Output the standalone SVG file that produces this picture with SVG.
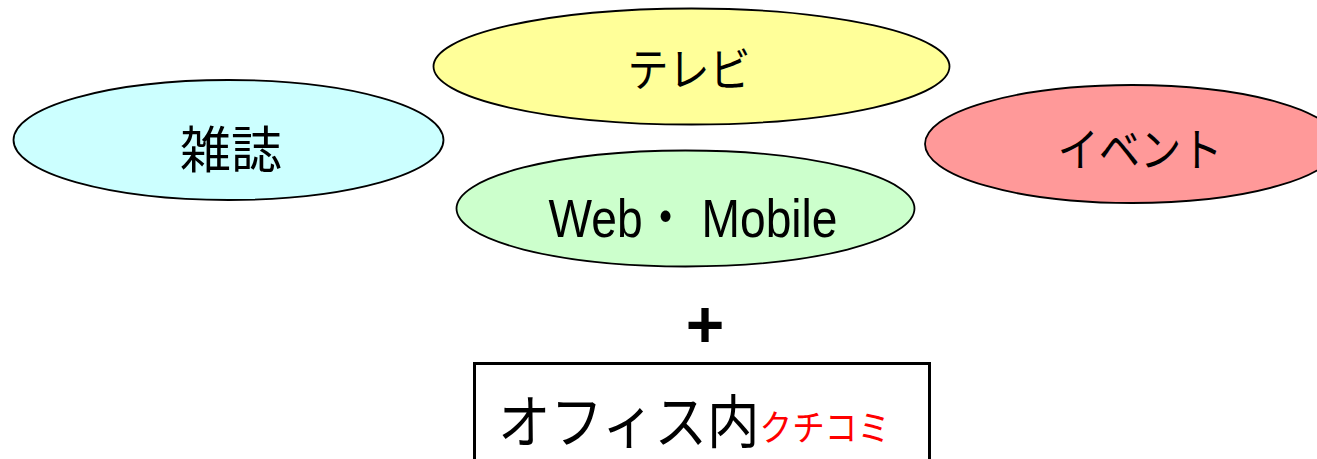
<svg xmlns="http://www.w3.org/2000/svg" width="1317" height="459" viewBox="0 0 1317 459">
<style>
.e{stroke:#000;stroke-width:1.8}
.t{font-family:"Liberation Sans","Noto Sans CJK JP",sans-serif;fill:#000;text-anchor:middle}
.j{font-family:"Noto Sans CJK JP","Liberation Sans",sans-serif;fill:#000}
.r{fill:#FF0000;font-size:36px}
</style>
<rect width="1317" height="459" fill="#fff"/>
<g id="zasshi">
<ellipse class="e" cx="228.5" cy="140" rx="215" ry="60" fill="#CCFFFF"/>
<text class="j" x="231" y="168" font-size="50" text-anchor="middle" textLength="102" lengthAdjust="spacingAndGlyphs">雑誌</text>
</g>
<g id="terebi">
<ellipse class="e" cx="691.5" cy="66.5" rx="258" ry="58" fill="#FFFF99"/>
<text class="j" x="689" y="86" font-size="46" text-anchor="middle" textLength="123" lengthAdjust="spacingAndGlyphs">テレビ</text>
</g>
<g id="web">
<ellipse class="e" cx="685.5" cy="208.5" rx="229" ry="58" fill="#CCFFCC"/>
<text class="t" x="693" y="237" font-size="54" textLength="289" lengthAdjust="spacingAndGlyphs">Web・ Mobile</text>
</g>
<g id="event">
<ellipse class="e" cx="1132" cy="144" rx="207" ry="59" fill="#FF9999"/>
<text class="j" x="1140" y="166" font-size="46" text-anchor="middle" textLength="165" lengthAdjust="spacingAndGlyphs">イベント</text>
</g>
<g id="plus">
<text class="t" x="705" y="347" font-size="66" font-weight="bold">+</text>
</g>
<g id="office">
<rect x="474.5" y="363.5" width="455" height="110" fill="none" stroke="#000" stroke-width="3"/>
<text class="j" x="498" y="443" font-size="58" textLength="392" lengthAdjust="spacingAndGlyphs">オフィス内<tspan class="r" dy="-2">クチコミ</tspan></text>
</g>
<g id="connectors"/>
</svg>
